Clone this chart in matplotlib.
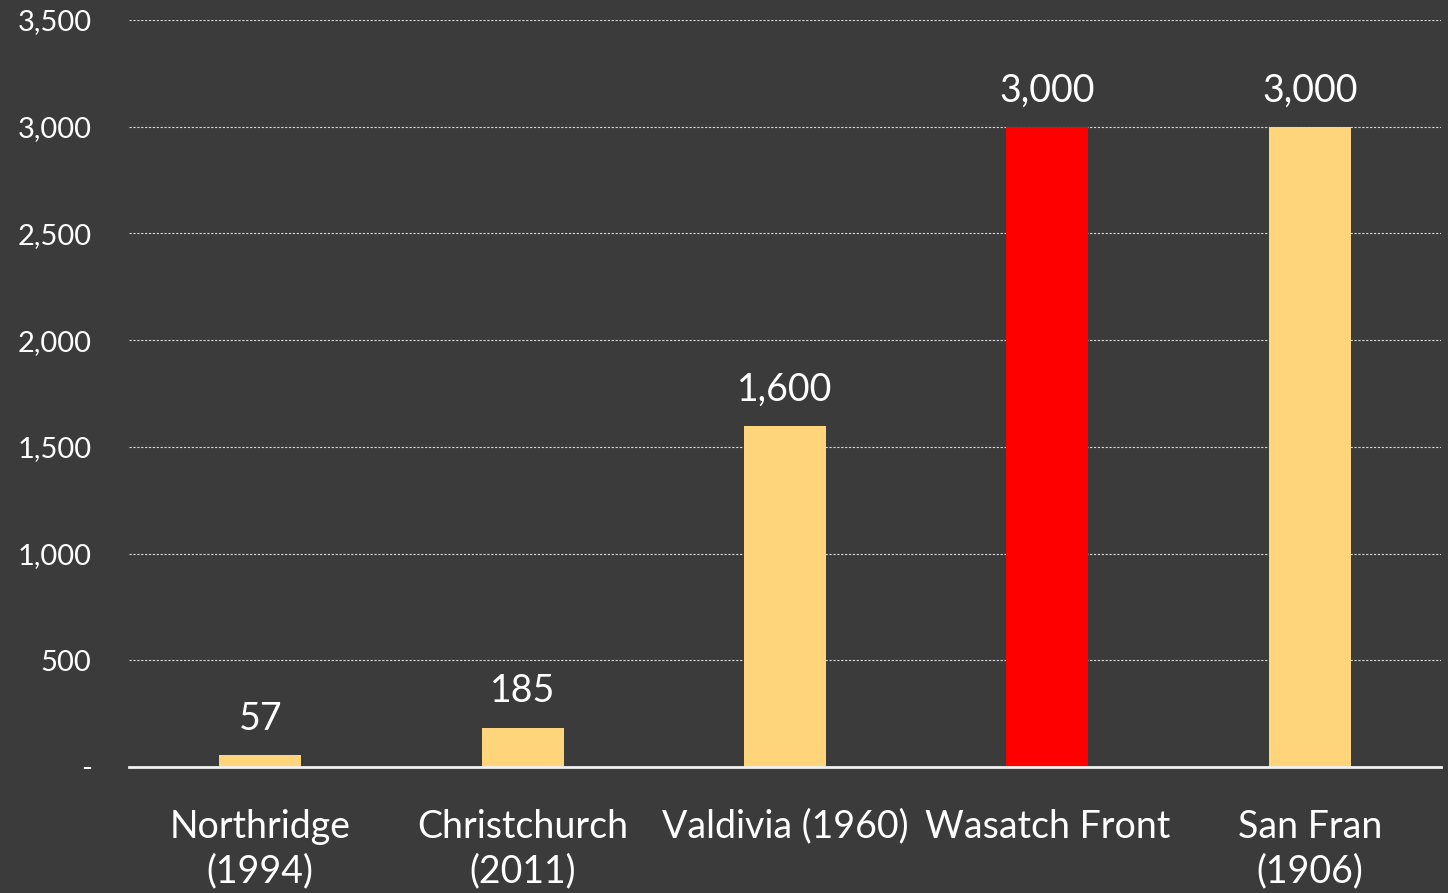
import matplotlib
matplotlib.use("Agg")
import matplotlib.pyplot as plt
from matplotlib.ticker import FuncFormatter

categories = ["Northridge\n(1994)", "Christchurch\n(2011)", "Valdivia (1960)", "Wasatch Front", "San Fran\n(1906)"]
values = [57, 185, 1600, 3000, 3000]
highlight = [False, False, False, True, False]
yticks = [0, 500, 1000, 1500, 2000, 2500, 3000, 3500]

BG = "#3B3B3B"
YEL = "#FFD57C"
RED = "#FF0000"
FONT = ["Lato", "DejaVu Sans"]

plt.rcParams["font.family"] = FONT
fig = plt.figure(figsize=(14.48, 8.93), dpi=100, facecolor=BG)
ax = fig.add_axes([0.0891, 0.1411, 0.9061, 0.8365], facecolor=BG)

x = list(range(len(categories)))
colors = [RED if h else YEL for h in highlight]
bars = ax.bar(x, values, width=0.3125, color=colors, zorder=3)
ax.set_xlim(-0.5, len(categories) - 0.5)
ax.set_ylim(0, 3500)
ax.set_yticks(yticks)
ax.yaxis.set_major_formatter(FuncFormatter(lambda v, p: "-" if v == 0 else f"{int(v):,}"))
ax.grid(axis="y", color="#D9D9D9", linestyle=(0, (2, 1.5)), linewidth=0.8, zorder=0)
ax.set_xticks(x)
ax.set_xticklabels(categories, fontsize=27, color="white", linespacing=1.3)
for s in ["top", "right", "left"]:
    ax.spines[s].set_visible(False)
ax.spines["bottom"].set_color("#F2F2F2")
ax.spines["bottom"].set_linewidth(2)
ax.spines["bottom"].set_zorder(4)
ax.tick_params(axis="x", length=0, pad=30)
ax.tick_params(axis="y", length=0, pad=27, labelsize=21, labelcolor="white")

for b, v in zip(bars, values):
    ax.annotate(f"{v:,}", (b.get_x() + b.get_width() / 2, v), xytext=(0, 13),
                textcoords="offset points", ha="center", va="bottom",
                fontsize=27, color="white")

fig.savefig("out.png", dpi=100, facecolor=BG)
